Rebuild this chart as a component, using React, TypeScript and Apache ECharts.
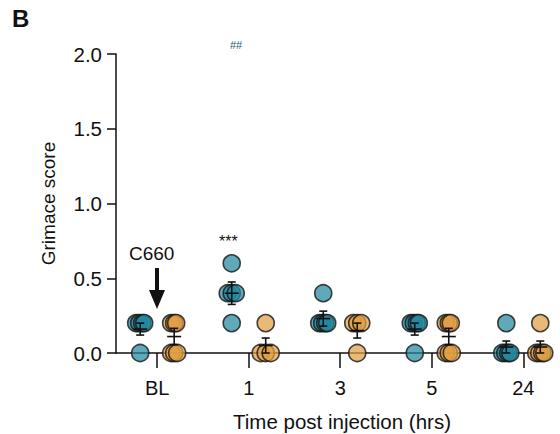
import React, { useEffect, useRef } from "react";
import * as echarts from "echarts";

const categories = ["BL", "1", "3", "5", "24"];
const yTicks = [0, 0.5, 1.0, 1.5, 2.0];

// individual scores per time point (teal group)
const tealValues = [
  [0.2, 0.2, 0.2, 0.2, 0.0],
  [0.6, 0.4, 0.4, 0.4, 0.2],
  [0.4, 0.2, 0.2, 0.2, 0.2],
  [0.2, 0.2, 0.2, 0.2, 0.0],
  [0.2, 0.0, 0.0, 0.0, 0.0],
];
const tealJitterPx = [
  [-4, -1, 2, 4, 0],
  [0, -4, 0, 4, 0],
  [0, -4, -1, 2, 4],
  [-4, -1, 2, 4, 0],
  [0, -4, -1, 2, 4],
];
const tealMean = [0.16, 0.4, 0.23, 0.16, 0.04];
const tealSem = [0.04, 0.075, 0.05, 0.04, 0.04];

// individual scores per time point (orange group)
const orangeValues = [
  [0.2, 0.2, 0.2, 0.0, 0.0, 0.0],
  [0.2, 0.0, 0.0, 0.0],
  [0.2, 0.2, 0.2, 0.0],
  [0.2, 0.2, 0.2, 0.0, 0.0, 0.0],
  [0.2, 0.0, 0.0, 0.0, 0.0],
];
const orangeJitterPx = [
  [-3, 0, 2, -3, 0, 3],
  [0, -5, 0, 5],
  [-4, 0, 4, 0],
  [-3, 0, 2, -3, 0, 3],
  [0, -4, -1, 2, 4],
];
const orangeMean = [0.11, 0.05, 0.15, 0.11, 0.04];
const orangeSem = [0.055, 0.05, 0.05, 0.055, 0.04];

const TEAL = "rgba(34,136,160,0.9)";
const ORANGE = "rgba(224,158,66,0.9)";
const FONT = "Liberation Sans, Arial, sans-serif";

export default function App() {
  const ref = useRef<HTMLDivElement>(null);

  useEffect(() => {
    if (!ref.current) return;
    const chart = echarts.init(ref.current, undefined, { renderer: "svg" });

    const X_MIN = -0.45;
    const X_MAX = 4.27;
    const GRID_LEFT = 116;
    const GRID_RIGHT = 12;
    const pxPerUnit = (560 - GRID_LEFT - GRID_RIGHT) / (X_MAX - X_MIN);
    const GROUP_OFF = 17 / pxPerUnit;

    const buildPoints = (vals: number[][], jit: number[][], sign: number) => {
      const out: number[][] = [];
      vals.forEach((arr, i) => {
        arr.forEach((v, j) => {
          out.push([i + sign * GROUP_OFF + jit[i][j] / pxPerUnit, v]);
        });
      });
      return out;
    };

    const buildErr = (means: number[], sems: number[], sign: number) =>
      means.map((m, i) => [i + sign * GROUP_OFF, m, sems[i]]);

    const errRender = (params: any, api: any) => {
      const x = api.value(0);
      const m = api.value(1);
      const s = api.value(2);
      const top = api.coord([x, m + s]);
      const bot = api.coord([x, m - s]);
      const mid = api.coord([x, m]);
      const st = { stroke: "#111", lineWidth: 1.6 };
      const capW = 4;
      const meanW = 7;
      return {
        type: "group",
        children: [
          { type: "line", shape: { x1: top[0], y1: top[1], x2: bot[0], y2: bot[1] }, style: st },
          { type: "line", shape: { x1: top[0] - capW, y1: top[1], x2: top[0] + capW, y2: top[1] }, style: st },
          { type: "line", shape: { x1: bot[0] - capW, y1: bot[1], x2: bot[0] + capW, y2: bot[1] }, style: st },
          { type: "line", shape: { x1: mid[0] - meanW, y1: mid[1], x2: mid[0] + meanW, y2: mid[1] }, style: st },
        ],
      };
    };

    chart.setOption({
      animation: false,
      grid: {
        left: GRID_LEFT,
        right: GRID_RIGHT,
        top: 54,
        bottom: 81,
        containLabel: false,
        outerBoundsMode: "none",
      },
      xAxis: {
        type: "value",
        min: X_MIN,
        max: X_MAX,
        name: "Time post injection (hrs)",
        nameLocation: "middle",
        nameGap: 58,
        nameTextStyle: { fontSize: 20.5, color: "#111", fontFamily: FONT, padding: [0, 0, 0, 20] },
        splitLine: { show: false },
        axisLine: { show: true, onZero: false, lineStyle: { color: "#111", width: 1.5 } },
        axisTick: {
          show: true,
          customValues: [0, 1, 2, 3, 4],
          length: 15,
          lineStyle: { color: "#111", width: 1.5 },
        },
        axisLabel: {
          customValues: [0, 1, 2, 3, 4],
          formatter: (v: number) => categories[Math.round(v)] ?? "",
          fontSize: 20,
          color: "#111",
          fontFamily: FONT,
          margin: 25,
        },
      },
      yAxis: {
        type: "value",
        min: 0,
        max: 2,
        interval: 0.5,
        name: "Grimace score",
        nameLocation: "middle",
        nameGap: 58,
        nameTextStyle: { fontSize: 19, color: "#111", fontFamily: FONT },
        splitLine: { show: false },
        axisLine: { show: true, onZero: false, lineStyle: { color: "#111", width: 1.5 } },
        axisTick: { show: true, length: 9, lineStyle: { color: "#111", width: 1.5 } },
        axisLabel: {
          formatter: (v: number) => (yTicks.includes(v) ? v.toFixed(1) : ""),
          fontSize: 20.5,
          color: "#111",
          fontFamily: FONT,
          margin: 14,
        },
      },
      series: [
        {
          type: "scatter",
          data: buildPoints(tealValues, tealJitterPx, -1),
          symbol: "circle",
          symbolSize: 17,
          clip: false,
          itemStyle: { color: TEAL, borderColor: "#151515", borderWidth: 1.6 },
          z: 2,
        },
        {
          type: "scatter",
          data: buildPoints(orangeValues, orangeJitterPx, 1),
          symbol: "circle",
          symbolSize: 17,
          clip: false,
          itemStyle: { color: ORANGE, borderColor: "#151515", borderWidth: 1.6 },
          z: 2,
        },
        {
          type: "custom",
          data: buildErr(tealMean, tealSem, -1),
          renderItem: errRender,
          clip: false,
          z: 5,
        },
        {
          type: "custom",
          data: buildErr(orangeMean, orangeSem, 1),
          renderItem: errRender,
          clip: false,
          z: 5,
        },
      ],
      graphic: [
        {
          type: "text",
          left: 12,
          top: 6,
          style: { text: "B", fontSize: 24, fontWeight: "bold", fill: "#111", fontFamily: FONT },
        },
        {
          type: "text",
          left: 230,
          top: 39,
          style: { text: "##", fontSize: 11, fill: "#1d5e6e", fontFamily: FONT },
        },
        {
          type: "text",
          left: 219,
          top: 233,
          style: { text: "***", fontSize: 16, fill: "#111", fontFamily: FONT },
        },
        {
          type: "text",
          left: 129,
          top: 244,
          style: { text: "C660", fontSize: 19, fill: "#111", fontFamily: FONT },
        },
        {
          type: "line",
          shape: { x1: 157, y1: 268, x2: 157, y2: 292 },
          style: { stroke: "#111", lineWidth: 4 },
        },
        {
          type: "polygon",
          shape: { points: [[149, 290], [165, 290], [157, 309]] },
          style: { fill: "#111" },
        },
      ],
    });

    return () => chart.dispose();
  }, []);

  return (
    <div
      ref={ref}
      style={{ position: "fixed", left: 0, top: 0, width: 560, height: 434, background: "#fff" }}
    />
  );
}
